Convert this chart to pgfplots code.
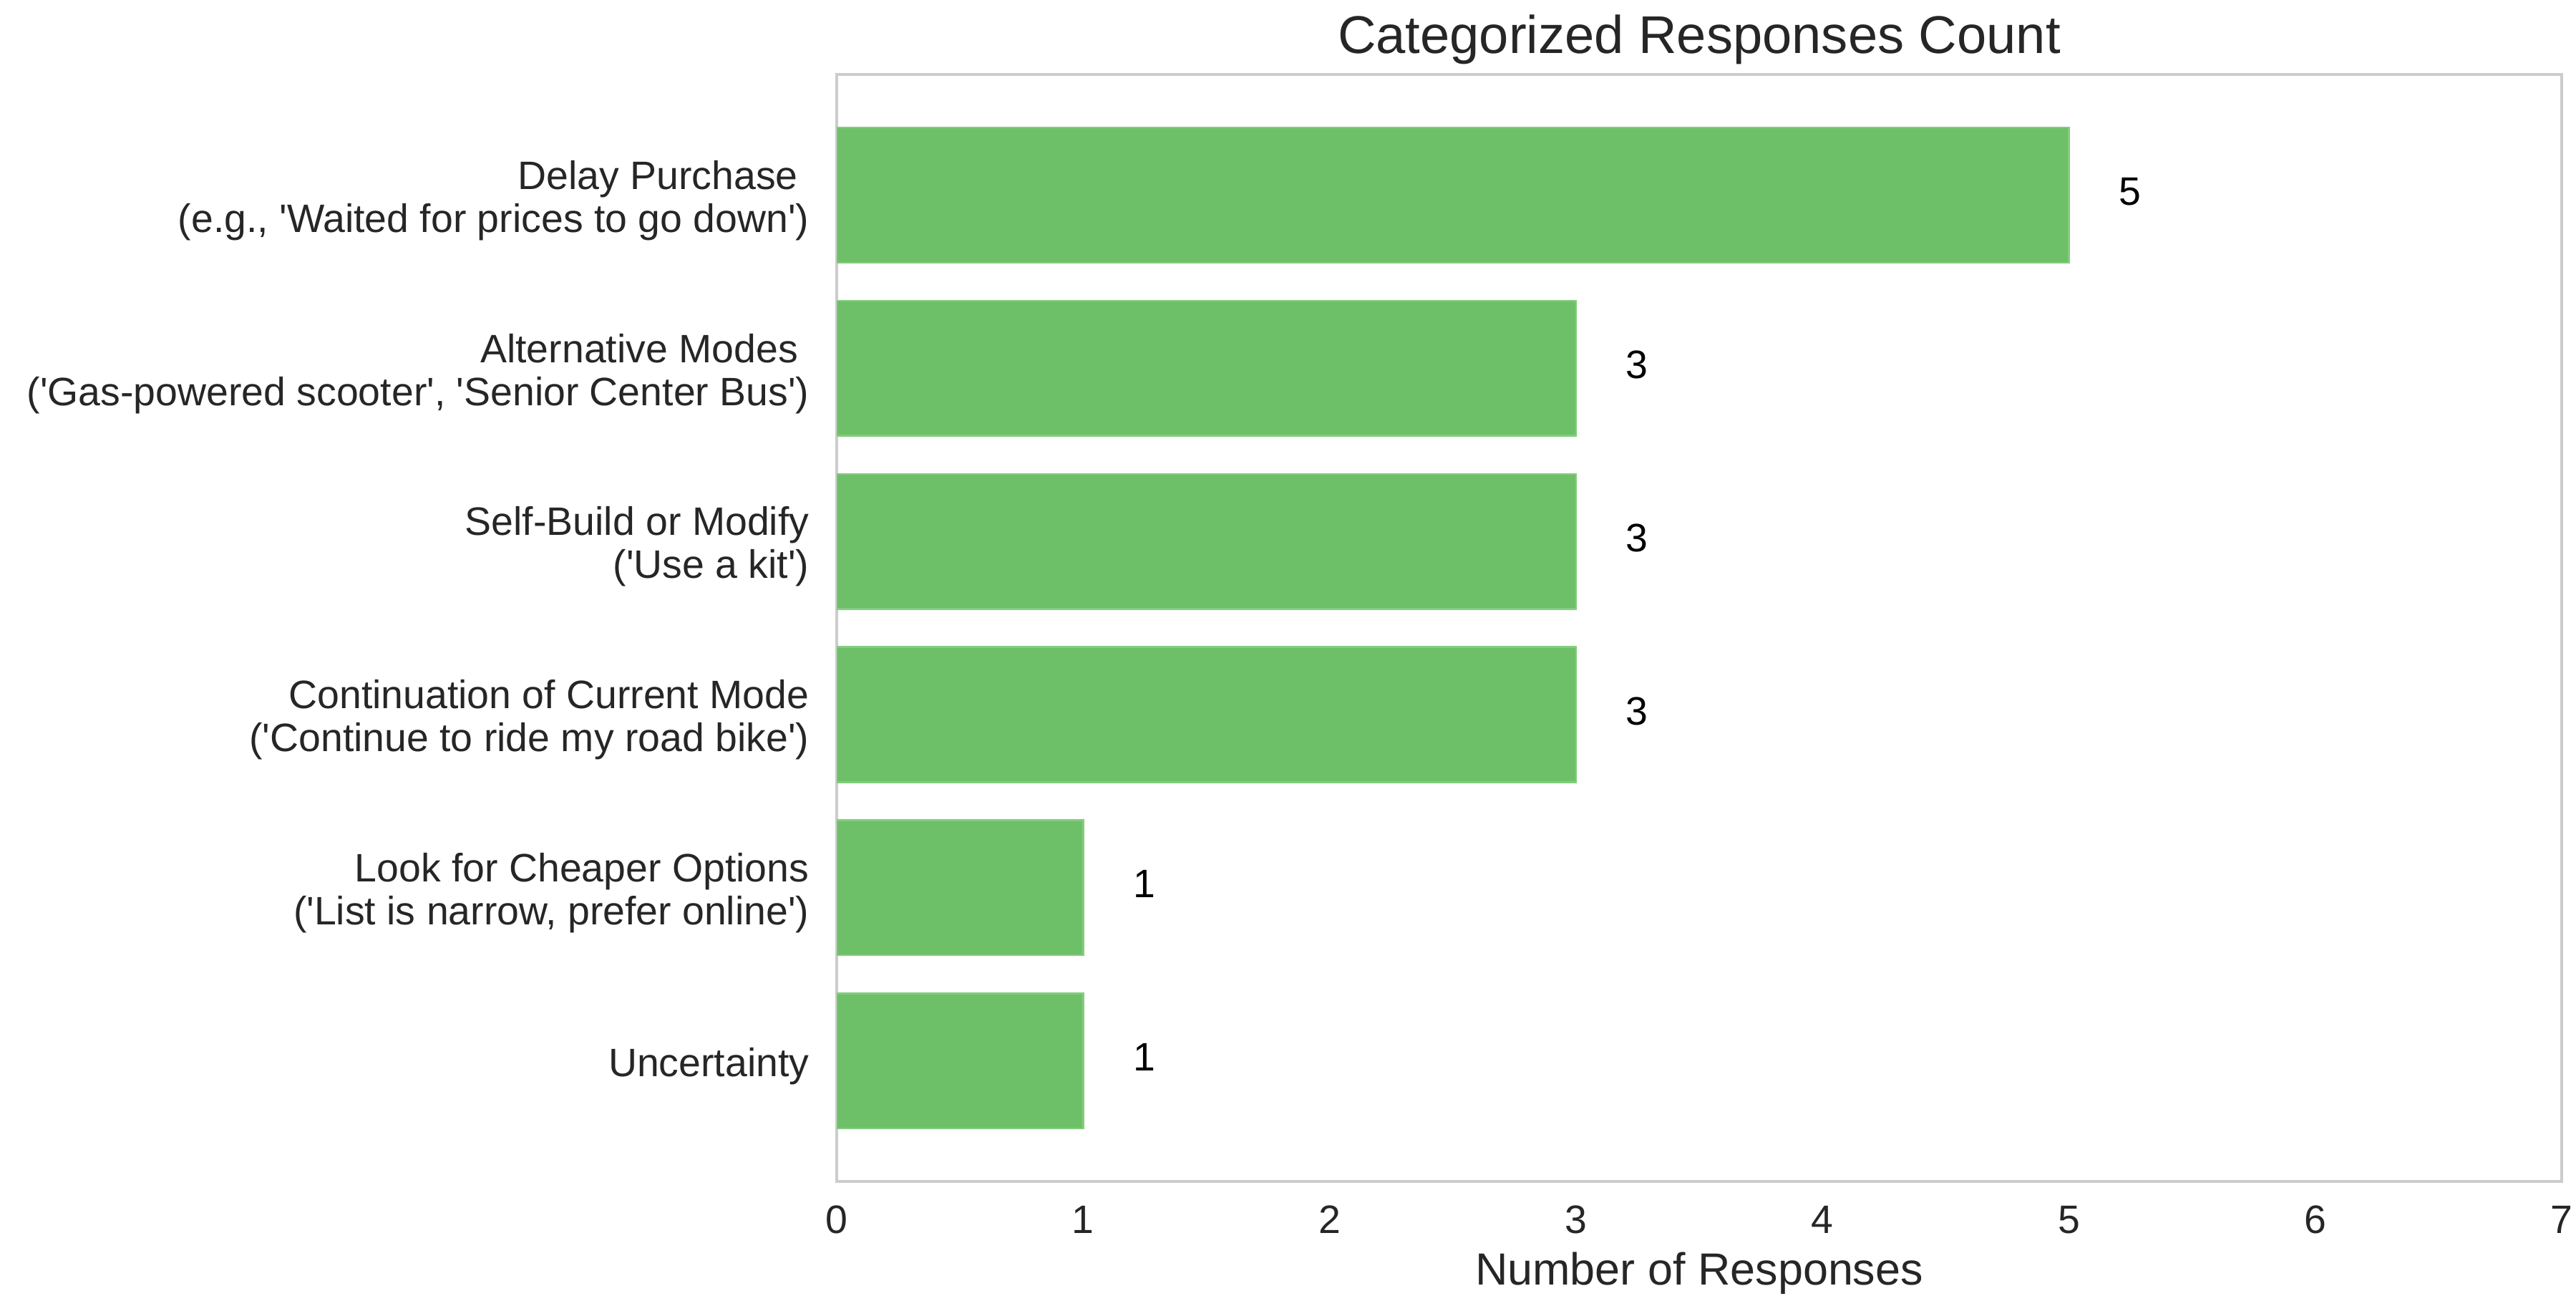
\documentclass[border=0pt]{standalone}
\usepackage{fontspec}
\setmainfont{Liberation Sans}[Ligatures=TeXOff]
\usepackage{pgfplots}
\pgfplotsset{compat=1.18}

\definecolor{barGreen}{RGB}{109,192,103}
\definecolor{barEdge}{RGB}{132,204,126}
\definecolor{txt}{RGB}{38,38,38}
\definecolor{frameGray}{RGB}{204,204,204}

\begin{document}
\begin{tikzpicture}
\useasboundingbox (-280.6pt,-38.4pt) rectangle (583.2pt,396pt);
\begin{axis}[
  at={(0,0)}, anchor=south west,
  scale only axis, width=578.4pt, height=371pt,
  xbar, bar width=0.78, bar shift=0pt,
  xmin=0, xmax=7, ymin=-0.696, ymax=5.696,
  xtick={0,...,7}, ytick={0,...,5},
  yticklabels={
    {Uncertainty},
    {Look for Cheaper Options\\('List is narrow, prefer online')},
    {Continuation of Current Mode\\('Continue to ride my road bike')},
    {Self-Build or Modify\\('Use a kit')},
    {Alternative Modes\hspace*{0.28em}\\('Gas-powered scooter', 'Senior Center Bus')},
    {Delay Purchase\hspace*{0.28em}\\(e.g., 'Waited for prices to go down')}
  },
  major tick length=0pt,
  axis line style={draw=frameGray, line width=0.8pt},
  /pgf/number format/assume math mode=true,
  yticklabel style={align=right, anchor=east, inner sep=0pt, xshift=-9.1pt,
    yshift=-1.8pt, font=\fontsize{13.3}{14.4}\selectfont, text=txt},
  xticklabel style={anchor=base, inner sep=0pt, yshift=-17.3pt,
    font=\fontsize{13.3}{14.4}\selectfont, text=txt},
  xlabel={Number of Responses},
  xlabel style={at={(axis description cs:0.5,0)}, anchor=base, inner sep=0pt,
    yshift=-34.8pt, font=\fontsize{15.1}{18}\selectfont, text=txt},
  title={Categorized Responses Count},
  every axis title shift=0pt,
  title style={at={(axis description cs:0.5,1)}, anchor=base, inner sep=0pt,
    yshift=7pt, font=\fontsize{17.8}{20}\selectfont, text=txt},
  nodes near coords,
  every node near coord/.append style={anchor=base west, inner sep=0pt,
    xshift=16.5pt, yshift=-3.4pt, font=\fontsize{13.3}{14.4}\selectfont, text=black},
]
\addplot[fill=barGreen, draw=barEdge, line width=0.6pt]
  coordinates {(1,0) (1,1) (3,2) (3,3) (3,4) (5,5)};
\end{axis}
\end{tikzpicture}
\end{document}
